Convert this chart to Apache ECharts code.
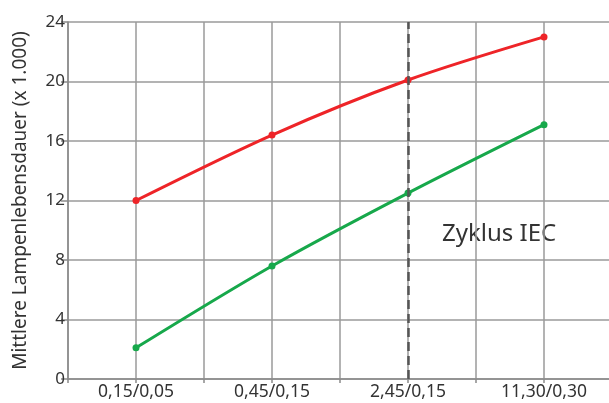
<!DOCTYPE html>
<html>
<head>
<meta charset="utf-8">
<script src="https://cdn.jsdelivr.net/npm/echarts@6/dist/echarts.min.js"></script>
<style>
  html, body { margin: 0; padding: 0; background: #fff; }
  #chart { width: 609px; height: 403px; }
</style>
</head>
<body>
<div id="chart"></div>
<script>
// Switching cycles (on/off hours) along the x axis
const categories = ['0,15/0,05', '0,45/0,15', '2,45/0,15', '11,30/0,30'];
// Mean lamp life in thousands of hours
const upperSeries = [12.0, 16.4, 20.1, 23.0];
const lowerSeries = [2.1, 7.6, 12.5, 17.1];
const yTicks = [0, 4, 8, 12, 16, 20, 24];
const iecCycle = '2,45/0,15';

// Each category sits in the middle of a band two units wide
const pos = i => 2 * i + 1;
const toPoints = vals => vals.map((v, i) => [pos(i), v]);
const labelAt = {};
categories.forEach((c, i) => { labelAt[pos(i)] = c; });

const FONT = '"Noto Sans", sans-serif';
const chart = echarts.init(document.getElementById('chart'), null, { renderer: 'canvas' });

chart.setOption({
  animation: false,
  backgroundColor: '#fff',
  grid: { left: 68, top: 22, right: -3, bottom: 24, containLabel: false, outerBoundsMode: 'none' },
  xAxis: {
    type: 'value',
    min: 0, max: 2 * categories.length, interval: 1,
    axisLine: { show: true, lineStyle: { color: '#8a8a8a', width: 1.5 } },
    axisTick: { show: true, length: 4, lineStyle: { color: '#8a8a8a', width: 1.5 } },
    splitLine: { show: true, lineStyle: { color: '#9a9a9a', width: 1.5 } },
    axisLabel: {
      margin: 4, color: '#333', fontSize: 17.5, fontFamily: FONT,
      formatter: v => labelAt[v] || ''
    }
  },
  yAxis: {
    type: 'value',
    min: yTicks[0], max: yTicks[yTicks.length - 1], interval: 4,
    name: 'Mittlere Lampenlebensdauer (x 1.000)',
    nameLocation: 'middle', nameGap: 38, nameRotate: 90,
    nameTextStyle: { color: '#333', fontSize: 19, fontFamily: FONT },
    axisLine: { show: true, lineStyle: { color: '#8a8a8a', width: 1.5 } },
    axisTick: { show: true, length: 7, lineStyle: { color: '#8a8a8a', width: 1.5 } },
    splitLine: { show: true, lineStyle: { color: '#9a9a9a', width: 1.5 } },
    axisLabel: { margin: 3, color: '#333', fontSize: 17, fontFamily: FONT }
  },
  series: [
    {
      type: 'line', data: toPoints(upperSeries), smooth: 0.3,
      symbol: 'circle', symbolSize: 7,
      lineStyle: { color: '#ee2428', width: 3 },
      itemStyle: { color: '#ee2428' },
      markLine: {
        silent: true, symbol: 'none', label: { show: false },
        lineStyle: { color: '#555', width: 2.5, type: [9, 5] },
        data: [{ xAxis: pos(categories.indexOf(iecCycle)) }]
      },
      z: 3
    },
    {
      type: 'line', data: toPoints(lowerSeries), smooth: 0.3,
      symbol: 'circle', symbolSize: 7,
      lineStyle: { color: '#17a84b', width: 3 },
      itemStyle: { color: '#17a84b' },
      z: 3
    }
  ],
  graphic: [
    {
      type: 'text', left: 442, top: 222,
      style: { text: 'Zyklus IEC', fill: '#333', fontSize: 24, fontFamily: FONT }
    }
  ]
});
</script>
</body>
</html>
